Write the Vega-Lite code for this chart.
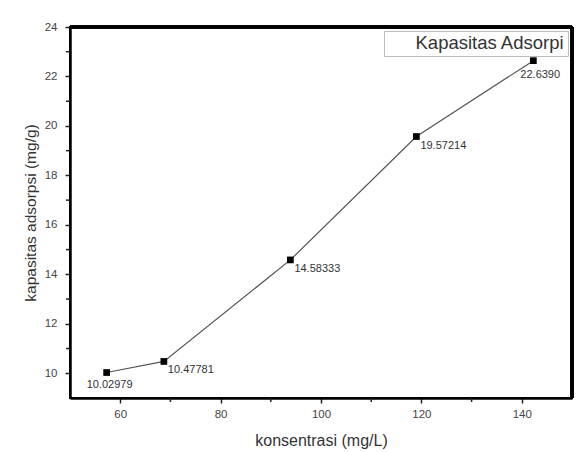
{
  "$schema": "https://vega.github.io/schema/vega-lite/v6.json",
  "autosize": "none",
  "width": 502,
  "height": 371,
  "padding": {"left": 70, "top": 27, "right": 13, "bottom": 54},
  "background": "white",
  "config": {
    "font": "Liberation Sans",
    "view": {"stroke": "black", "strokeWidth": 2},
    "axis": {"grid": false, "domainColor": "black", "domainWidth": 2.5, "tickColor": "#222", "tickSize": 5, "tickWidth": 1.5, "labelColor": "#444", "labelFontSize": 11.5, "titleColor": "#333", "titleFontWeight": "normal"}
  },
  "data": {"values": [
    {"k": 57.3, "q": 10.02979, "lbl": "10.02979", "s": "Kapasitas Adsorpi", "i": 1},
    {"k": 68.7, "q": 10.47781, "lbl": "10.47781", "s": "Kapasitas Adsorpi", "i": 2},
    {"k": 93.9, "q": 14.58333, "lbl": "14.58333", "s": "Kapasitas Adsorpi", "i": 3},
    {"k": 119.0, "q": 19.57214, "lbl": "19.57214", "s": "Kapasitas Adsorpi", "i": 4},
    {"k": 142.3, "q": 22.6390, "lbl": "22.6390", "s": "Kapasitas Adsorpi", "i": 5}
  ]},
  "encoding": {
    "x": {"field": "k", "type": "quantitative", "scale": {"domain": [50, 150], "nice": false},
      "axis": {"title": "konsentrasi (mg/L)", "titleFontSize": 16, "titlePadding": 13, "values": [60, 80, 100, 120, 140], "labelPadding": 5}},
    "y": {"field": "q", "type": "quantitative", "scale": {"domain": [9, 24], "nice": false, "zero": false},
      "axis": {"title": "kapasitas adsorpsi (mg/g)", "titleFontSize": 15.5, "titlePadding": 6, "values": [10, 12, 14, 16, 18, 20, 22, 24], "labelPadding": 8}}
  },
  "layer": [
    {"mark": {"type": "rule", "color": "black", "strokeWidth": 3},
     "encoding": {"y": {"datum": 24}, "x": {"datum": 50}, "x2": {"datum": 150}}},
    {"mark": {"type": "rule", "color": "black", "strokeWidth": 3},
     "encoding": {"x": {"datum": 150}, "y": {"datum": 9}, "y2": {"datum": 24}}},
    {"mark": {"type": "rule", "color": "#222", "strokeWidth": 1.5},
     "data": {"values": [{"t": 70}, {"t": 90}, {"t": 110}, {"t": 130}]},
     "encoding": {"x": {"field": "t", "type": "quantitative"}, "y": {"value": 371}, "y2": {"value": 375}}},
    {"mark": {"type": "rule", "color": "#222", "strokeWidth": 1.5},
     "data": {"values": [{"t": 11}, {"t": 13}, {"t": 15}, {"t": 17}, {"t": 19}, {"t": 21}, {"t": 23}]},
     "encoding": {"y": {"field": "t", "type": "quantitative"}, "x": {"value": 0}, "x2": {"value": -4}}},
    {"mark": {"type": "line", "strokeWidth": 1.2},
     "encoding": {"color": {"field": "s", "type": "nominal", "scale": {"range": ["#555555"]},
       "legend": {"title": null, "orient": "top-right", "offset": 4, "symbolType": "circle", "symbolSize": 0, "symbolStrokeWidth": 0, "symbolFillColor": "white", "symbolStrokeColor": "white", "labelFontSize": 18.5, "labelColor": "#333", "strokeColor": "#bbb", "padding": 3, "labelOffset": 10, "fillColor": "white"}}}},
    {"mark": {"type": "point", "shape": "square", "filled": true, "color": "black", "size": 45, "opacity": 1}},
    {"transform": [{"filter": "datum.i == 1"}],
     "mark": {"type": "text", "align": "center", "baseline": "top", "dx": 3, "dy": 6, "fontSize": 11, "color": "#333"},
     "encoding": {"text": {"field": "lbl"}}},
    {"transform": [{"filter": "datum.i > 1 && datum.i < 5"}],
     "mark": {"type": "text", "align": "left", "baseline": "top", "dx": 4, "dy": 3, "fontSize": 11, "color": "#333"},
     "encoding": {"text": {"field": "lbl"}}},
    {"transform": [{"filter": "datum.i == 5"}],
     "mark": {"type": "text", "align": "left", "baseline": "top", "dx": -13, "dy": 8, "fontSize": 11, "color": "#333"},
     "encoding": {"text": {"field": "lbl"}}}
  ]
}
